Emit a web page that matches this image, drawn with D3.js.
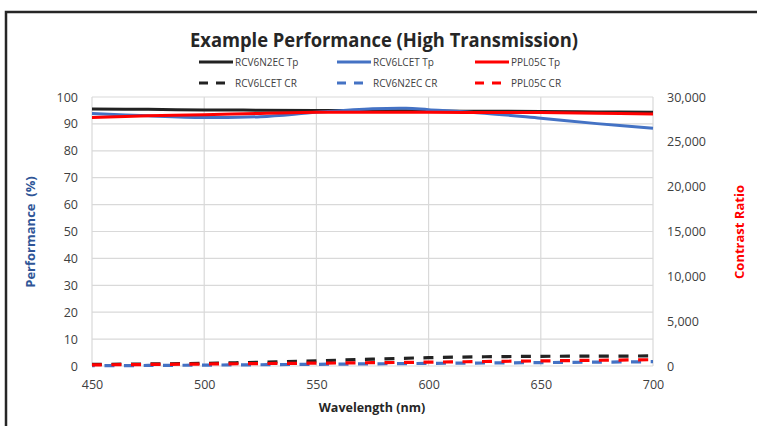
<!DOCTYPE html>
<html>
<head>
<meta charset="utf-8">
<script src="https://cdn.jsdelivr.net/npm/d3@7"></script>
<style>
  html, body { margin: 0; padding: 0; background: #fff; }
  svg { display: block; font-family: "Open Sans", "Noto Sans", sans-serif; }
</style>
</head>
<body>
<div id="chart"></div>
<script>
// wavelengths (nm) and series
var tpWave      = [450, 475, 500, 525, 550, 575, 590, 600, 625, 650, 675, 700];
var rcv6n2ecTp  = [95.5, 95.4, 95.2, 95.1, 95.0, 94.9, 94.85, 94.8, 94.7, 94.6, 94.45, 94.3];
var rcv6lcetTp  = [93.9, 93.0, 92.4, 92.7, 94.3, 95.6, 95.8, 95.3, 94.0, 92.1, 90.1, 88.4];
var ppl05cTp    = [92.4, 93.0, 93.4, 93.9, 94.3, 94.35, 94.35, 94.3, 94.25, 94.2, 94.0, 93.7];

var crWave      = [450, 475, 500, 525, 550, 575, 600, 625, 650, 675, 700];
var rcv6lcetCr  = [180, 230, 300, 420, 580, 760, 930, 1030, 1080, 1100, 1120];
var rcv6n2ecCr  = [30, 60, 100, 140, 190, 240, 290, 335, 380, 430, 480];
var ppl05cCr    = [120, 170, 220, 270, 320, 370, 430, 500, 570, 640, 700];

var xTicks      = [450, 500, 550, 600, 650, 700];
var leftTicks   = [0, 10, 20, 30, 40, 50, 60, 70, 80, 90, 100];
var rightTicks  = [0, 5000, 10000, 15000, 20000, 25000, 30000];

var W = 757, H = 426;
var plot = {left: 92, right: 653, top: 97, bottom: 366};

var colors = {black: "#222222", blue: "#4472c4", red: "#ff0000"};

var svg = d3.select("#chart").append("svg")
	.attr("width", W)
	.attr("height", H);

// outer frame (only top & left visible in the crop)
svg.append("path")
	.attr("d", "M6," + H + "V12H" + W)
	.attr("fill", "none")
	.attr("stroke", "#262626")
	.attr("stroke-width", 2.5);

var x = d3.scaleLinear().domain([450, 700]).range([plot.left, plot.right]);
var yL = d3.scaleLinear().domain([0, 100]).range([plot.bottom, plot.top]);
var yR = d3.scaleLinear().domain([0, 30000]).range([plot.bottom, plot.top]);

// gridlines
var grid = svg.append("g").attr("stroke", "#d9d9d9").attr("stroke-width", 1.2);
grid.selectAll("line.h").data(leftTicks).enter().append("line")
	.attr("x1", plot.left).attr("x2", plot.right)
	.attr("y1", function(d) { return yL(d); })
	.attr("y2", function(d) { return yL(d); });
grid.selectAll("line.v").data(xTicks).enter().append("line")
	.attr("y1", plot.top).attr("y2", plot.bottom)
	.attr("x1", function(d) { return x(d); })
	.attr("x2", function(d) { return x(d); });

// axes (labels only, Excel style)
function styleAxis(g) {
	g.select(".domain").remove();
	g.selectAll(".tick line").remove();
	g.selectAll(".tick text")
		.attr("fill", "#404040")
		.style("font-size", "12.5px")
		.style("font-family", "'Open Sans', sans-serif");
}

svg.append("g")
	.attr("transform", "translate(0," + (plot.bottom + 6) + ")")
	.call(d3.axisBottom(x).tickValues(xTicks).tickSize(0).tickPadding(8))
	.call(styleAxis);

svg.append("g")
	.attr("transform", "translate(" + (plot.left - 10) + ",0)")
	.call(d3.axisLeft(yL).tickValues(leftTicks).tickSize(0).tickPadding(4))
	.call(styleAxis);

svg.append("g")
	.attr("transform", "translate(" + (plot.right + 10) + ",0)")
	.call(d3.axisRight(yR).tickValues(rightTicks).tickSize(0).tickPadding(4)
		.tickFormat(d3.format(",")))
	.call(styleAxis);

// series
var lineL = d3.line()
	.x(function(d) { return x(d[0]); })
	.y(function(d) { return yL(d[1]); })
	.curve(d3.curveCatmullRom.alpha(0.5));
var lineR = d3.line()
	.x(function(d) { return x(d[0]); })
	.y(function(d) { return yR(d[1]); })
	.curve(d3.curveCatmullRom.alpha(0.5));

var tpSeries = [
	{vals: rcv6n2ecTp, color: colors.black},
	{vals: rcv6lcetTp, color: colors.blue},
	{vals: ppl05cTp,   color: colors.red}
];
var crSeries = [
	{vals: rcv6lcetCr, color: colors.black, offset: 0},
	{vals: rcv6n2ecCr, color: colors.blue,  offset: 7},
	{vals: ppl05cCr,   color: colors.red,   offset: 0}
];

svg.append("g").selectAll("path").data(tpSeries).enter().append("path")
	.attr("d", function(s) { return lineL(tpWave.map(function(w, i) { return [w, s.vals[i]]; })); })
	.attr("fill", "none")
	.attr("stroke", function(s) { return s.color; })
	.attr("stroke-width", 3);

svg.append("g").selectAll("path").data(crSeries).enter().append("path")
	.attr("d", function(s) { return lineR(crWave.map(function(w, i) { return [w, s.vals[i]]; })); })
	.attr("fill", "none")
	.attr("stroke", function(s) { return s.color; })
	.attr("stroke-width", 3.2)
	.attr("stroke-dasharray", "10,9.5")
	.attr("stroke-dashoffset", function(s) { return s.offset; });

// title
svg.append("text")
	.attr("x", 384).attr("y", 47)
	.attr("text-anchor", "middle")
	.attr("fill", "#262626")
	.style("font-size", "20px")
	.style("font-weight", "bold")
	.attr("textLength", 388)
	.attr("lengthAdjust", "spacingAndGlyphs")
	.text("Example Performance (High Transmission)");

// legend
var legendItems = [
	{label: "RCV6N2EC Tp", color: colors.black, dash: null,  col: 0, row: 0},
	{label: "RCV6LCET Tp", color: colors.blue,  dash: null,  col: 1, row: 0},
	{label: "PPL05C Tp",   color: colors.red,   dash: null,  col: 2, row: 0},
	{label: "RCV6LCET CR", color: colors.black, dash: "9,8", col: 0, row: 1},
	{label: "RCV6N2EC CR", color: colors.blue,  dash: "9,8", col: 1, row: 1},
	{label: "PPL05C CR",   color: colors.red,   dash: "9,8", col: 2, row: 1}
];
var legendX = [199, 337, 475], legendY = [62, 83];

var lg = svg.append("g").selectAll("g").data(legendItems).enter().append("g")
	.attr("transform", function(d) { return "translate(" + legendX[d.col] + "," + legendY[d.row] + ")"; });
lg.append("line")
	.attr("x1", 0).attr("x2", 34).attr("y1", 0).attr("y2", 0)
	.attr("stroke", function(d) { return d.color; })
	.attr("stroke-width", 3)
	.attr("stroke-dasharray", function(d) { return d.dash; });
lg.append("text")
	.attr("x", 36).attr("y", 3.5)
	.attr("fill", "#404040")
	.style("font-size", "10px")
	.text(function(d) { return d.label; });

// axis titles
svg.append("text")
	.attr("x", 372).attr("y", 412)
	.attr("text-anchor", "middle")
	.attr("fill", "#262626")
	.style("font-size", "12.5px")
	.style("font-weight", "bold")
	.text("Wavelength (nm)");

svg.append("text")
	.attr("transform", "translate(35,232) rotate(-90)")
	.attr("text-anchor", "middle")
	.attr("fill", "#2f5597")
	.style("font-size", "13px")
	.style("font-weight", "bold")
	.style("white-space", "pre")
	.attr("xml:space", "preserve")
	.text("Performance  (%)");

svg.append("text")
	.attr("transform", "translate(744,232) rotate(-90)")
	.attr("text-anchor", "middle")
	.attr("fill", "#ff0000")
	.style("font-size", "13px")
	.style("font-weight", "bold")
	.text("Contrast Ratio");
</script>
</body>
</html>
